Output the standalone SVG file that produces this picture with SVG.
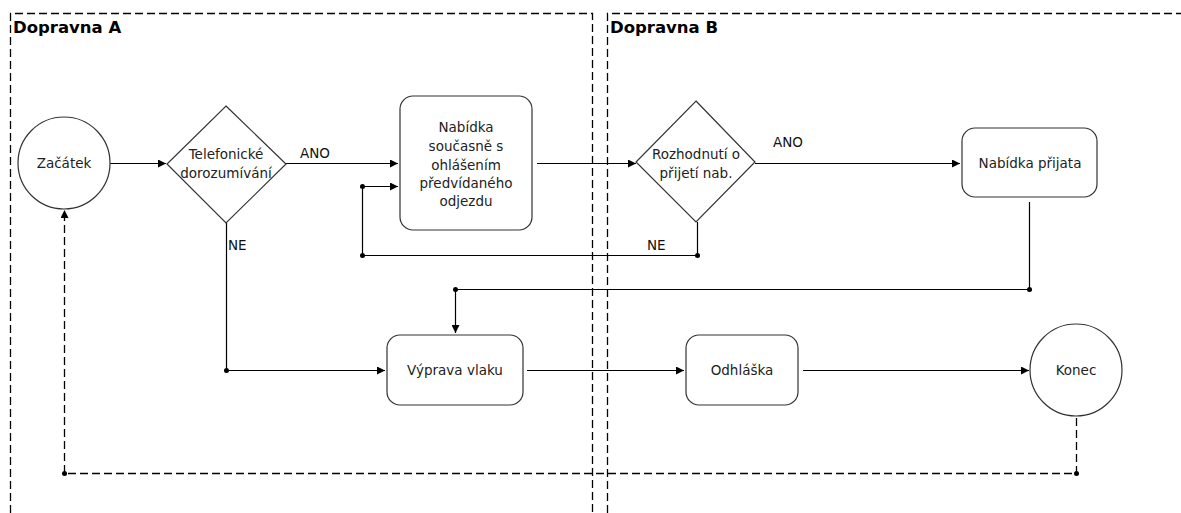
<svg xmlns="http://www.w3.org/2000/svg" width="1181" height="513" viewBox="0 0 1181 513">
<style>
.pool{fill:none;stroke:#000;stroke-width:1.3;stroke-dasharray:8 4}
.shape{fill:#fff;stroke:#333;stroke-width:1.2}
.t{font-family:"DejaVu Sans",Verdana,sans-serif;font-size:13.5px;fill:#222;text-anchor:middle}
.lbl{font-family:"DejaVu Sans",Verdana,sans-serif;font-size:13.5px;fill:#111}
.title{font-family:"DejaVu Sans",Verdana,sans-serif;font-size:16.5px;font-weight:bold;fill:#000}
.c{fill:none;stroke:#000;stroke-width:1.2}
.d{fill:none;stroke:#000;stroke-width:1.3;stroke-dasharray:8 4}
.dot{fill:#000}
</style>
<defs>
<marker id="ah" viewBox="0 0 10 10" refX="10" refY="5" markerWidth="9" markerHeight="8" markerUnits="userSpaceOnUse" orient="auto">
<path d="M0,0 L10,5 L0,10 z" fill="#000"/>
</marker>
</defs>
<rect width="1181" height="513" fill="#fff"/>
<g id="poolA">
<path class="pool" d="M10.5,513 L10.5,13.5 L592.5,13.5 L592.5,513"/>
<text class="title" x="13" y="33">Dopravna A</text>
</g>
<g id="poolB">
<path class="pool" d="M607.5,513 L607.5,13.5 L1181,13.5"/>
<text class="title" x="610" y="33">Dopravna B</text>
</g>
<g id="connectors">
<line class="c" x1="110" y1="163.5" x2="166" y2="163.5" marker-end="url(#ah)"/>
<line class="c" x1="286" y1="163.5" x2="398" y2="163.5" marker-end="url(#ah)"/>
<text class="lbl" x="300" y="158">ANO</text>
<line class="c" x1="537" y1="163.5" x2="636" y2="163.5" marker-end="url(#ah)"/>
<line class="c" x1="755" y1="163.5" x2="960" y2="163.5" marker-end="url(#ah)"/>
<text class="lbl" x="773" y="147">ANO</text>
<path class="c" d="M697.5,222 L697.5,255.5 L362.5,255.5 L362.5,186.5 L398,186.5" marker-end="url(#ah)"/>
<circle class="dot" cx="697.5" cy="255.5" r="2.5"/>
<circle class="dot" cx="362.5" cy="255.5" r="2.5"/>
<circle class="dot" cx="362.5" cy="186.5" r="2.5"/>
<text class="lbl" x="647" y="250">NE</text>
<path class="c" d="M226.5,223 L226.5,370.5 L385,370.5" marker-end="url(#ah)"/>
<circle class="dot" cx="226.5" cy="370.5" r="2.5"/>
<text class="lbl" x="228" y="250">NE</text>
<path class="c" d="M1029.5,202 L1029.5,289.5 L455.5,289.5 L455.5,333" marker-end="url(#ah)"/>
<circle class="dot" cx="1029.5" cy="289.5" r="2.5"/>
<circle class="dot" cx="455.5" cy="289.5" r="2.5"/>
<line class="c" x1="527" y1="370.5" x2="684" y2="370.5" marker-end="url(#ah)"/>
<line class="c" x1="803" y1="370.5" x2="1029" y2="370.5" marker-end="url(#ah)"/>
<path class="d" d="M1076.5,418 L1076.5,473.5 L64.5,473.5 L64.5,210" marker-end="url(#ah)"/>
<circle class="dot" cx="1076.5" cy="473.5" r="2.5"/>
<circle class="dot" cx="64.5" cy="473.5" r="2.5"/>
</g>
<g id="zacatek">
<circle class="shape" cx="64" cy="163" r="46"/>
<text class="t" x="64" y="168">Začátek</text>
</g>
<g id="telefonicke">
<path class="shape" d="M226,106 L286,164 L226,223 L167,164 z"/>
<text class="t" x="226" y="159">Telefonické</text>
<text class="t" x="226" y="178">dorozumívání</text>
</g>
<g id="nabidka">
<rect class="shape" x="400" y="96" width="132" height="134" rx="13"/>
<text class="t" x="466" y="132">Nabídka</text>
<text class="t" x="466" y="151">současně s</text>
<text class="t" x="466" y="170">ohlášením</text>
<text class="t" x="466" y="188">předvídaného</text>
<text class="t" x="466" y="206">odjezdu</text>
</g>
<g id="rozhodnuti">
<path class="shape" d="M696,101 L755,162 L696,222 L636,162 z"/>
<text class="t" x="696" y="159">Rozhodnutí o</text>
<text class="t" x="696" y="178">přijetí nab.</text>
</g>
<g id="nabidkaPrijata">
<rect class="shape" x="962" y="128" width="135" height="69" rx="13"/>
<text class="t" x="1030" y="168">Nabídka přijata</text>
</g>
<g id="vyprava">
<rect class="shape" x="387" y="335" width="136" height="70" rx="13"/>
<text class="t" x="455" y="375">Výprava vlaku</text>
</g>
<g id="odhlaska">
<rect class="shape" x="686" y="335" width="112" height="70" rx="13"/>
<text class="t" x="742" y="375">Odhláška</text>
</g>
<g id="konec">
<circle class="shape" cx="1076" cy="370" r="46"/>
<text class="t" x="1076" y="375">Konec</text>
</g>
</svg>
